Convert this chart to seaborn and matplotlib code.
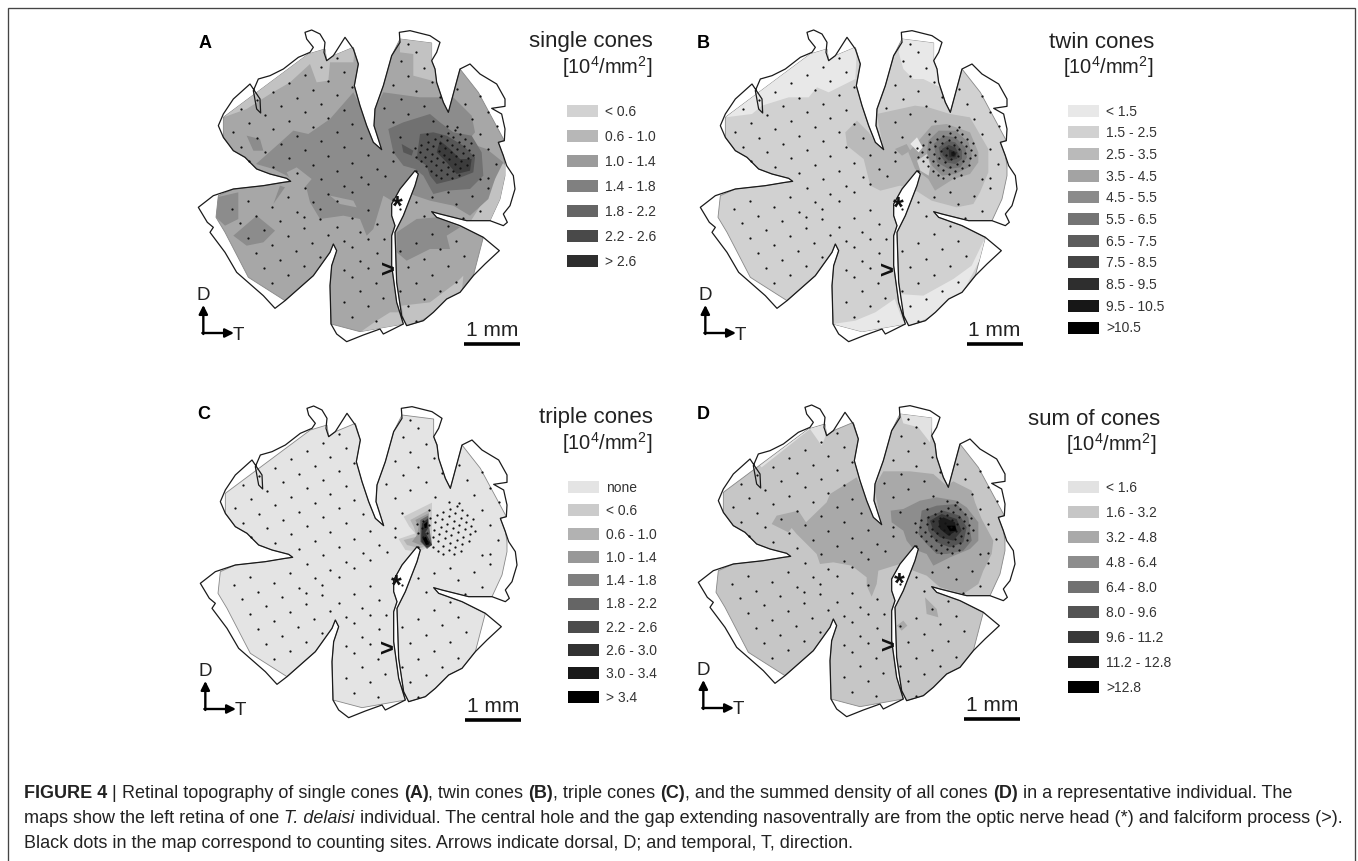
# -*- coding: utf-8 -*-
"""
Retinal cone density maps, four panels
"""

import pandas as pd
import matplotlib
matplotlib.use('Agg')
import matplotlib.pyplot as plt
from matplotlib.patches import Polygon, Rectangle
import seaborn as sns

# retina shape, in map units
outline = [(405,40),(425,33),(450,45),(465,70),(462,100),(470,125),(490,110),(525,55),(550,90),(565,135),
           (553,200),(570,260),(590,320),(610,370),(635,392),(612,320),(615,270),(640,200),(665,110),(690,70),
           (688,40),(720,35),(780,50),(810,70),(800,100),(785,125),(795,150),(800,190),(820,250),(835,280),
           (870,150),(900,135),(930,165),(980,195),(1005,240),(1005,262),(965,268),(995,285),(1005,330),(1003,365),
           (985,370),(1000,410),(1010,440),(1030,470),(1035,510),(1020,560),(1000,585),(1012,610),(1000,620),(960,605),
           (890,605),(810,585),(785,578),(800,595),(870,620),(940,655),(988,695),(945,735),(910,770),(870,820),
           (830,840),(790,880),(760,905),(710,920),(695,890),(680,790),(675,640),(700,590),(735,500),(745,465),
           (735,455),(690,510),(665,555),(665,590),(675,620),(665,650),(665,740),(680,850),(700,915),(640,945),
           (630,930),(580,948),(530,968),(500,945),(483,915),(480,800),(485,740),(500,695),(490,675),(480,700),
           (430,770),(345,845),(315,868),(280,830),(200,760),(165,700),(120,640),(130,625),(112,610),(85,565),
           (130,530),(190,510),(280,500),(340,490),(362,487),(350,478),(300,465),(260,450),(225,415),(190,395),
           (160,355),(145,320),(160,285),(190,240),(240,195),(270,240),(272,282),(260,270),(250,215),(265,180),
           (300,170),(340,150),(385,115),(420,100),(430,85),(410,60)]

tissue = [(160,295),(415,105),(465,90),(470,125),(490,110),(550,85),(565,135),(553,200),(570,260),(590,320),
          (610,370),(635,392),(612,320),(615,270),(640,200),(665,110),(690,60),(785,72),(785,125),(795,150),
          (800,190),(820,250),(835,280),(870,150),(925,220),(1003,365),(985,370),(1000,410),(1005,440),(1005,470),
          (990,540),(960,605),(890,605),(810,585),(785,578),(800,595),(870,620),(940,655),(910,770),(870,820),
          (830,840),(790,880),(760,905),(710,920),(695,890),(680,790),(675,640),(700,590),(735,500),(745,465),
          (735,455),(690,510),(665,555),(665,590),(675,620),(665,650),(665,740),(680,850),(700,915),(570,938),
          (483,915),(480,800),(485,740),(500,695),(490,675),(480,700),(430,770),(345,845),(235,775),(165,640),
          (138,595),(145,530),(190,510),(280,500),(340,490),(362,487),(350,478),(300,465),(260,450),(225,415),
          (190,395),(160,355)]

# counting sites
sites = [(500,118),(452,143),(405,168),(358,192),(310,218),(262,243),(213,270),
         (523,160),(475,185),(428,212),(380,238),(332,262),(285,287),(237,313),(188,340),
         (547,203),(500,228),(452,255),(405,280),(357,305),(310,330),(260,357),(212,383),
         (523,272),(475,298),(428,325),(380,350),(333,375),(285,400),(237,427),
         (547,315),(500,340),(452,367),(405,392),(357,418),(310,443),
         (572,358),(523,385),(475,410),(428,437),(380,462),
         (595,408),(547,433),(500,455),(452,480),(405,507),
         (620,450),(572,475),(523,500),(475,525),(428,550),(380,578),
         (670,425),(645,470),(595,495),(547,520),(500,545),(450,570),(403,595),
         (187,570),(235,545),(258,590),(210,612),(305,565),(355,535),(283,632),(235,658),(330,607),
         (258,703),(305,678),(355,650),(403,627),(450,600),(282,748),(330,722),(378,697),(427,672),(475,647),
         (305,792),(355,767),(403,742),(450,715),
         (500,623),(547,598),(595,573),(620,615),(570,640),(523,665),(595,660),(547,685),(570,727),(523,752),
         (620,703),(643,660),(595,748),(547,775),(570,815),(617,793),(523,850),(640,837),(595,860),(547,893),(617,905),
         (690,570),(738,548),(785,535),(835,520),(762,590),(858,555),(905,530),(955,508),(930,575),(880,598),
         (835,620),(787,645),(738,672),(690,697),(858,665),(810,690),(762,720),(715,745),(835,740),(883,712),
         (787,768),(738,792),(690,815),(810,815),(762,840),(715,862),(738,905),(858,790),
         (715,75),(738,100),(692,127),(762,147),(715,172),(668,197),(787,190),(738,215),(692,240),(643,268),
         (763,260),(715,285),(668,310),(810,235),(860,210),(885,255),(788,305),(690,355),(668,400),
         (955,390),(930,345),(905,300),(930,230),(955,278),(980,322),(978,435),(955,478),(930,480),
         (750,400),(770,391),(790,382),(810,373),(830,364),(850,355),(870,346),
         (766,413),(786,404),(806,395),(826,386),(846,377),(866,368),(886,359),
         (782,426),(802,417),(822,408),(842,399),(862,390),(882,381),(902,372),
         (798,439),(818,430),(838,421),(858,412),(878,403),(898,394),
         (814,452),(834,443),(854,434),(874,425),(894,416),(908,407),
         (830,465),(850,456),(870,447),(890,438),(846,478),(866,469),
         (734,387),(754,378),(774,369),(794,360),(814,351),(834,342),(854,333),
         (752,425),(739,455),(768,440),(782,455),(798,468),(812,478),(738,415),(770,345),(830,320),(860,325)]

# density bands per panel: (legend step, polygon)
bands_a = [(1,[(160,295),(230,270),(300,225),(360,190),(420,135),(440,190),(475,185),(480,130),(550,130),(555,80),(465,85),(415,100)]),
           (1,[(690,55),(790,70),(790,125),(805,190),(730,170),(730,105),(690,100)]),
           (1,[(990,430),(1010,440),(995,540),(960,610),(900,610),(950,530),(975,480)]),
           (1,[(570,940),(620,905),(660,880),(695,880),(705,920)]),
           (1,[(695,860),(780,850),(860,790),(880,770),(875,825),(790,885),(705,925)]),
           (3,[(258,435),(320,380),(370,335),(415,345),(480,300),(550,220),(570,260),(610,370),(635,392),(612,320),(615,270),(640,220),
               (750,235),(850,235),(905,290),(915,340),(890,370),(950,390),(1000,430),(975,480),(955,540),(900,590),(850,560),(780,545),
               (735,530),(690,510),(665,545),(640,530),(625,580),(610,630),(590,650),(570,600),(520,590),(450,600),(420,550),(410,510),
               (350,470),(310,450)]),
           (2,[(350,460),(380,445),(425,480),(400,510),(365,490)]),
           (2,[(480,530),(550,545),(560,565),(510,555)]),
           (3,[(140,535),(205,520),(205,600),(165,620),(138,595)]),
           (3,[(190,650),(260,590),(315,635),(280,670),(230,680)]),
           (3,[(310,555),(330,500),(345,505)]),
           (3,[(230,350),(270,360),(280,395),(250,395)]),
           (3,[(680,640),(740,600),(800,595),(870,625),(830,650),(840,690),(780,690),(710,725),(680,700)]),
           (4,[(655,330),(700,310),(780,285),(810,310),(850,340),(905,350),(935,400),(940,470),(900,510),(830,515),(790,525),(760,470),(735,450),(700,440),(670,400)]),
           (5,[(695,375),(730,395),(725,410),(700,400)]),
           (5,[(750,345),(790,340),(830,350),(880,380),(915,415),(910,460),(860,480),(800,495),(780,470),(770,440),(740,420)]),
           (6,[(810,365),(840,390),(870,420),(905,420),(900,455),(860,465),(830,430),(800,400)])]

bands_b = [(0,[(160,295),(240,285),(270,260),(350,235),(410,235),(435,205),(470,220),(550,180),(555,80),(465,85),(415,100)]),
           (0,[(483,915),(550,905),(610,880),(668,840),(690,900),(705,920),(570,945)]),
           (0,[(680,825),(754,830),(844,780),(899,740),(940,655),(940,690),(870,825),(790,885),(705,925)]),
           (0,[(690,55),(790,70),(790,125),(805,205),(754,180),(724,180),(694,150),(680,100)]),
           (2,[(520,340),(555,305),(590,340),(610,370),(635,392),(614,285),(729,260),(769,265),(834,285),(894,295),(949,390),(949,460),
               (924,520),(904,555),(854,565),(779,545),(724,510),(684,500),(625,515),(595,500),(575,420),(525,380)]),
           (3,[(669,390),(704,375),(715,395),(690,410)]),
           (3,[(709,400),(779,320),(824,315),(894,340),(919,400),(919,430),(894,465),(844,480),(789,515),(769,480),(729,450)]),
           (4,[(769,365),(800,335),(850,335),(890,370),(900,410),(890,445),(850,465),(810,470),(780,440),(765,400)]),
           (5,[(785,375),(815,350),(850,355),(880,385),(885,415),(865,445),(830,450),(795,430)]),
           (6,[(800,385),(825,365),(850,370),(870,395),(870,420),(850,435),(820,430),(805,410)]),
           (7,[(810,390),(830,378),(850,385),(860,405),(855,420),(830,425),(812,408)]),
           (8,[(830,390),(855,400),(850,415),(832,415)]),
           (9,[(838,398),(852,404),(846,412),(838,410)]),
           (0,[(715,375),(735,355),(752,385),(740,400)]),
           (1,[(735,425),(765,405),(775,440),(770,470),(745,455)])]

bands_c = [(1,[(695,365),(780,323),(780,450),(740,470),(700,465),(680,432),(730,415),(712,395)]),
           (2,[(715,375),(770,345),(775,445),(745,460),(705,450),(695,435),(735,425),(725,395)]),
           (3,[(730,375),(770,355),(770,445),(745,450),(720,440),(735,420),(740,395)]),
           (5,[(745,375),(768,362),(772,400),(780,450),(765,462),(745,440),(745,410)]),
           (7,[(750,385),(768,370),(768,400),(760,412),(780,450),(765,458),(748,440),(748,420)]),
           (9,[(756,388),(766,380),(764,398),(758,400)]),
           (9,[(752,430),(762,425),(772,448),(762,450)])]

bands_d = [(0,[(270,215),(415,105),(470,90),(465,130),(455,155),(420,105),(275,220)]),
           (0,[(690,55),(790,70),(780,145),(745,100),(700,88)]),
           (2,[(305,390),(320,365),(385,350),(408,385),(470,325),(480,300),(560,250),(580,290),(610,370),(635,392),(612,280),(640,232),
               (720,232),(790,240),(830,275),(850,262),(905,290),(915,325),(935,375),(970,440),(965,480),(940,530),(925,570),(880,600),
               (810,580),(770,545),(730,530),(690,510),(625,530),(620,570),(605,608),(590,575),(590,550),(545,515),(490,505),(450,510),
               (440,480),(380,420),(365,402),(355,415)]),
           (2,[(765,610),(800,645),(805,670),(770,660)]),
           (2,[(680,695),(700,680),(712,695),(695,710)]),
           (3,[(662,350),(700,345),(750,320),(800,310),(860,320),(890,340),(925,385),(925,440),(900,465),(840,490),(790,515),(770,480),(730,465),(710,440),(700,410),(665,385)]),
           (4,[(755,350),(800,335),(860,330),(895,370),(905,440),(880,470),(830,480),(800,480),(770,450),(745,420)]),
           (5,[(770,370),(820,350),(870,365),(890,400),(880,445),(840,460),(800,445),(775,410)]),
           (6,[(780,380),(815,360),(860,375),(875,410),(850,440),(810,430),(790,410)]),
           (7,[(805,380),(820,370),(855,385),(860,410),(835,425),(810,405)]),
           (8,[(830,395),(855,395),(860,410),(840,412)])]

labels_a = ['< 0.6','0.6 - 1.0','1.0 - 1.4','1.4 - 1.8','1.8 - 2.2','2.2 - 2.6','> 2.6']
labels_b = ['< 1.5','1.5 - 2.5','2.5 - 3.5','3.5 - 4.5','4.5 - 5.5','5.5 - 6.5','6.5 - 7.5','7.5 - 8.5','8.5 - 9.5','9.5 - 10.5','>10.5']
labels_c = ['none','< 0.6','0.6 - 1.0','1.0 - 1.4','1.4 - 1.8','1.8 - 2.2','2.2 - 2.6','2.6 - 3.0','3.0 - 3.4','> 3.4']
labels_d = ['< 1.6','1.6 - 3.2','3.2 - 4.8','4.8 - 6.4','6.4 - 8.0','8.0 - 9.6','9.6 - 11.2','11.2 - 12.8','>12.8']

# map_shades: the maps print a little softer than their legend swatches
panels = [
    dict(name='A', title='single cones', bands=bands_a, labels=labels_a, base=2, shades=('#d2d2d2', '#2e2e2e'),
         map_shades=('#dcdcdc', '#3c3c3c'),
         off=(0, 0), letter=(205, 44), title_xy=(653, 42), unit_xy=(653, 67), lx=567, ly=112, step=25,
         star=(683, 552), gt=(655, 752), bar_x=882),
    dict(name='B', title='twin cones', bands=bands_b, labels=labels_b, base=1, shades=('#e8e8e8', '#000000'),
         map_shades=('#e8e8e8', '#000000'),
         off=(502, 0), letter=(703, 44), title_xy=(1154, 42), unit_xy=(1154, 67), lx=1068, ly=111.5, step=21.7,
         star=(679, 555), gt=(644, 755), bar_x=884),
    dict(name='C', title='triple cones', bands=bands_c, labels=labels_c, base=0, shades=('#e4e4e4', '#000000'),
         map_shades=('#e4e4e4', '#000000'),
         off=(2, 376), letter=(204, 415), title_xy=(653, 418), unit_xy=(653, 443), lx=568, ly=488, step=23.3,
         star=(674, 563), gt=(644, 763), bar_x=880),
    dict(name='D', title='sum of cones', bands=bands_d, labels=labels_d, base=1, shades=('#e2e2e2', '#000000'),
         map_shades=('#e2e2e2', '#000000'),
         off=(500, 375), letter=(703, 415), title_xy=(1160, 420), unit_xy=(1157, 444), lx=1068, ly=488, step=25,
         star=(687, 558), gt=(655, 755), bar_x=882),
]

caption = [
    [('FIGURE 4', 'bold', 'normal'), (' | ', 'normal', 'normal'), ('Retinal topography of single cones ', 'normal', 'normal'), ('(A)', 'bold', 'normal'),
     (', twin cones ', 'normal', 'normal'), ('(B)', 'bold', 'normal'), (', triple cones ', 'normal', 'normal'), ('(C)', 'bold', 'normal'),
     (', and the summed density of all cones ', 'normal', 'normal'), ('(D)', 'bold', 'normal'),
     (' in a representative individual. The', 'normal', 'normal')],
    [('maps show the left retina of one ', 'normal', 'normal'), ('T. delaisi', 'normal', 'italic'),
     (' individual. The central hole and the gap extending nasoventrally are from the optic nerve head (*) and falciform process (>).', 'normal', 'normal')],
    [('Black dots in the map correspond to counting sites. Arrows indicate dorsal, D; and temporal, T, direction.', 'normal', 'normal')],
]

sns.set_theme(style='white')
plt.rcParams['font.family'] = ['Liberation Sans', 'DejaVu Sans']
plt.rcParams['mathtext.default'] = 'regular'

W, H = 1358, 862
fig = plt.figure(figsize=(W / 100, H / 100), dpi=100, facecolor='white')

# whole figure layer in pixels, for the frame, legends and caption
page = fig.add_axes([0, 0, 1, 1], zorder=5)
page.set_xlim(0, W)
page.set_ylim(H, 0)
page.axis('off')
page.patch.set_alpha(0)

page.plot([7.5, 7.5, 1355, 1355], [H, 9, 9, H], color='#444444', lw=0.95, solid_joinstyle='miter')

df_sites = pd.DataFrame(sites, columns=['x', 'y'])

for p in panels:
    ox, oy = p['off']
    ax = fig.add_axes([(170 + ox) / W, 1 - (370 + oy) / H, 360 / W, 350 / H], zorder=1)
    ax.axis('off')

    pal = sns.blend_palette(p['shades'], len(p['labels']))
    map_pal = sns.blend_palette(p['map_shades'], len(p['labels']))

    base = Polygon(tissue, closed=True, facecolor=map_pal[p['base']], edgecolor='#888888', lw=0.6)
    ax.add_patch(base)
    for level, poly in p['bands']:
        patch = Polygon(poly, closed=True, facecolor=map_pal[level], edgecolor='none')
        ax.add_patch(patch)
        patch.set_clip_path(base)

    ax.add_patch(Polygon(outline, closed=True, fill=False, edgecolor='#1a1a1a', lw=0.9, joinstyle='round'))

    sns.scatterplot(data=df_sites, x='x', y='y', ax=ax, color='#111111', s=2.6, linewidth=0, zorder=4, legend=False)
    ax.set_xlabel('')
    ax.set_ylabel('')

    ax.text(p['star'][0], p['star'][1] + 10, '*', fontsize=20, fontweight='bold', ha='center', va='center', color='#111111')
    ax.text(p['gt'][0], p['gt'][1], '>', fontsize=17, fontweight='bold', ha='center', va='center', color='#111111')

    # direction arrows and scale bar
    arrow = dict(arrowstyle='-|>', color='black', lw=1.7, shrinkA=0, shrinkB=0, mutation_scale=13)
    ax.annotate('', xy=(100, 858), xytext=(100, 945), arrowprops=arrow)
    ax.annotate('', xy=(192, 942), xytext=(97, 942), arrowprops=arrow)
    ax.text(100, 826, 'D', fontsize=13.5, ha='center', va='center', color='#222222')
    ax.text(205, 945, 'T', fontsize=13.5, ha='center', va='center', color='#222222')
    ax.plot([p['bar_x'], p['bar_x'] + 168], [975, 975], color='black', lw=2.6, solid_capstyle='butt')
    ax.text(p['bar_x'] + 84, 932, '1 mm', fontsize=15, ha='center', va='center', color='#222222')

    # limits last, the scatter call autoscales
    ax.set_xlim(0, 1080)
    ax.set_ylim(1050, 0)

    page.text(p['letter'][0], p['letter'][1], p['name'], fontsize=13, fontweight='bold', ha='center', va='center', color='black')
    page.text(p['title_xy'][0], p['title_xy'][1], p['title'], fontsize=16, ha='right', va='center', color='#222222')
    page.text(p['unit_xy'][0], p['unit_xy'][1], '[10$^4$/mm$^2$]', fontsize=14.5, ha='right', va='center', color='#222222')

    for i, lab in enumerate(p['labels']):
        yc = p['ly'] + i * p['step']
        page.add_patch(Rectangle((p['lx'], yc - 6), 30.5, 12, facecolor=pal[i], edgecolor='none'))
        page.text(p['lx'] + 38, yc, lab, fontsize=10, ha='left', va='center', color='#333333')

# caption lines with mixed bold and italic runs
rend = fig.canvas.get_renderer()
cap_y = [798, 823, 848]
for line, y in zip(caption, cap_y):
    x = 24
    for txt, weight, style in line:
        t = page.text(x, y, txt, fontsize=12.95, fontweight=weight, fontstyle=style, ha='left', va='baseline', color='#222222')
        x += t.get_window_extent(rend).width

fig.savefig('out.png', dpi=100)
